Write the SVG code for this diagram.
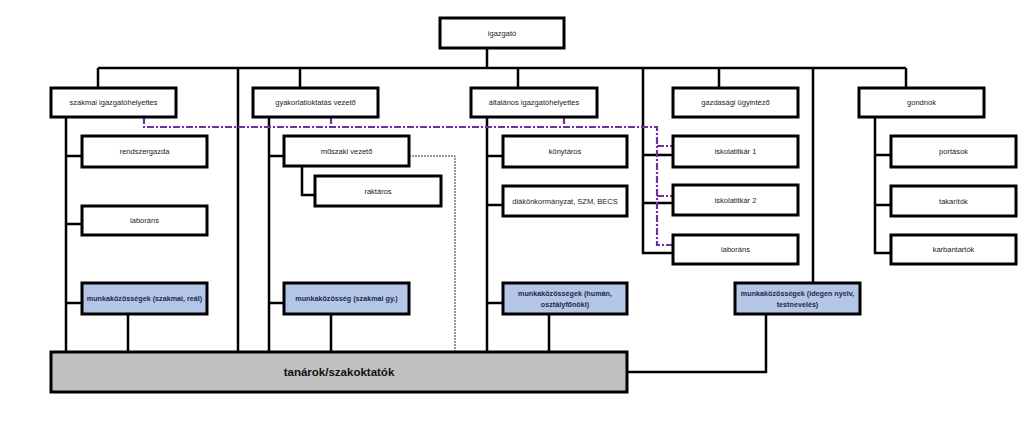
<svg xmlns="http://www.w3.org/2000/svg" width="1024" height="448" viewBox="0 0 1024 448">
<style>
.b{fill:#fff;stroke:#000;stroke-width:3}
.c{fill:#b4c6e7;stroke:#000;stroke-width:3}
.g{fill:#c0c0c0;stroke:#000;stroke-width:3}
.t{font-family:"Liberation Sans",Arial,sans-serif;font-size:7.5px;fill:#222;text-anchor:middle}
.tc{font-family:"Liberation Sans",Arial,sans-serif;font-size:7.2px;font-weight:bold;fill:#1f2a44;text-anchor:middle}
.tb{font-family:"Liberation Sans",Arial,sans-serif;font-size:11.5px;font-weight:bold;fill:#111;text-anchor:middle}
.l{fill:none;stroke:#000;stroke-width:2.5}
.d{fill:none;stroke:#333;stroke-width:1;stroke-dasharray:2,1}
.p{fill:none;stroke:#7030a0;stroke-width:2.2;stroke-dasharray:7,2,2,2}
</style>
<rect width="1024" height="448" fill="#fff"/>
<g id="connectors">
<path class="l" d="M487 48V68M98 68H906M98 68V88M300 68V88M518 68V88M719 68V88M906 68V88"/>
<path class="l" d="M238 68V352M643 68V253H673M813 68V283"/>
<path class="l" d="M66 117V352M66 156H82M66 224H82M66 303H82M128 314V352"/>
<path class="l" d="M269 117V352M269 156H284M269 303H284M302 166V195H315M331 314V352"/>
<path class="l" d="M487 117V352M487 156H503M487 205H503M487 303H503M549 314V352"/>
<path class="l" d="M643 155H673M643 203H673"/>
<path class="l" d="M766 314V372H627"/>
<path class="l" d="M875 117V253H891M875 155H891M875 205H891"/>
<path class="d" d="M409 156H455V352"/>
<path class="p" d="M144 117V127H657V245H673M331 117V127M564 117V127M657 146H673M657 196H673"/>
</g>
<g id="igazgato"><rect class="b" x="440" y="18" width="124" height="30"/><text class="t" x="502" y="36">igazgató</text></g>
<g id="szakmai"><rect class="b" x="51" y="88" width="125" height="29"/><text class="t" x="113.5" y="105">szakmai igazgatóhelyettes</text></g>
<g id="gyakorlati"><rect class="b" x="253" y="88" width="125" height="29"/><text class="t" x="315.5" y="105">gyakorlatioktatás vezető</text></g>
<g id="altalanos"><rect class="b" x="471" y="88" width="126" height="29"/><text class="t" x="534" y="105">általános igazgatóhelyettes</text></g>
<g id="gazdasagi"><rect class="b" x="673" y="88" width="125" height="29"/><text class="t" x="735.5" y="105">gazdasági ügyintéző</text></g>
<g id="gondnok"><rect class="b" x="859" y="88" width="125" height="29"/><text class="t" x="921.5" y="105">gondnok</text></g>
<g id="rendszergazda"><rect class="b" x="82" y="136" width="125" height="31"/><text class="t" x="144.5" y="154">rendszergazda</text></g>
<g id="laborans1"><rect class="b" x="82" y="206" width="125" height="29"/><text class="t" x="144.5" y="223">laboráns</text></g>
<g id="mk-real"><rect class="c" x="82" y="283" width="125" height="31"/><text class="tc" x="144.5" y="301">munkaközösségek (szakmai, reál)</text></g>
<g id="muszaki"><rect class="b" x="284" y="136" width="125" height="30"/><text class="t" x="346.5" y="154">műszaki vezető</text></g>
<g id="raktaros"><rect class="b" x="315" y="176" width="126" height="30"/><text class="t" x="378" y="194">raktáros</text></g>
<g id="mk-gy"><rect class="c" x="284" y="283" width="125" height="31"/><text class="tc" x="346.5" y="301">munkaközösség (szakmai gy.)</text></g>
<g id="konytaros"><rect class="b" x="503" y="136" width="124" height="31"/><text class="t" x="565" y="154">könytáros</text></g>
<g id="diak"><rect class="b" x="503" y="186" width="124" height="30"/><text class="t" x="565" y="204">diákönkormányzat, SZM, BECS</text></g>
<g id="mk-human"><rect class="c" x="503" y="283" width="124" height="31"/><text class="tc" x="565" y="296">munkaközösségek (humán,</text><text class="tc" x="565" y="307">osztályfőnöki)</text></g>
<g id="iskolatitkar1"><rect class="b" x="673" y="136" width="125" height="31"/><text class="t" x="735.5" y="154">iskolatitkár 1</text></g>
<g id="iskolatitkar2"><rect class="b" x="673" y="185" width="125" height="30"/><text class="t" x="735.5" y="203">iskolatitkár 2</text></g>
<g id="laborans2"><rect class="b" x="673" y="235" width="125" height="29"/><text class="t" x="735.5" y="252">laboráns</text></g>
<g id="mk-idegen"><rect class="c" x="735" y="283" width="125" height="31"/><text class="tc" x="797.5" y="296">munkaközösségek (idegen nyelv,</text><text class="tc" x="797.5" y="307">testnevelés)</text></g>
<g id="portasok"><rect class="b" x="891" y="136" width="125" height="31"/><text class="t" x="953.5" y="154">portások</text></g>
<g id="takaritok"><rect class="b" x="891" y="186" width="125" height="30"/><text class="t" x="953.5" y="204">takarítók</text></g>
<g id="karbantartok"><rect class="b" x="891" y="235" width="125" height="29"/><text class="t" x="953.5" y="252">karbantartók</text></g>
<g id="tanarok"><rect class="g" x="51" y="352" width="576" height="40"/><text class="tb" x="339" y="376">tanárok/szakoktatók</text></g>
</svg>
